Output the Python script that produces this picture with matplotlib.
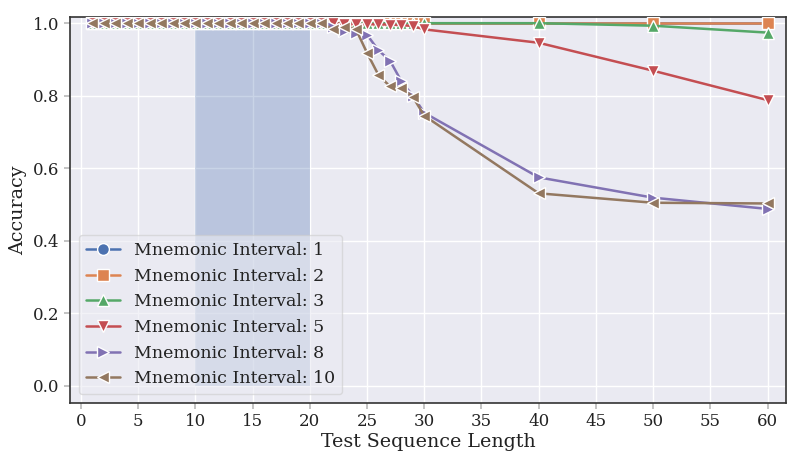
#!/usr/bin/env python3

import matplotlib
matplotlib.use('Agg')
import matplotlib.pyplot as plt
import seaborn as sns

# Accuracy per test sequence length, one list per mnemonic interval
lengths = list(range(1, 31)) + [40, 50, 60]

acc_1 = [1.0] * 33
acc_2 = [1.0] * 33
acc_3 = [1.0] * 31 + [0.993, 0.974]
acc_5 = [1.0] * 22 + [0.998, 0.998, 0.997, 0.997, 0.996, 0.995, 0.992, 0.983,
                      0.946, 0.869, 0.788]
acc_8 = [1.0] * 21 + [0.99, 0.978, 0.972, 0.968, 0.925, 0.897, 0.84, 0.80, 0.753,
                      0.575, 0.519, 0.488]
acc_10 = [1.0] * 21 + [0.983, 0.99, 0.985, 0.918, 0.857, 0.826, 0.82, 0.797, 0.745,
                       0.531, 0.505, 0.503]

intervals = [1, 2, 3, 5, 8, 10]
series = [acc_1, acc_2, acc_3, acc_5, acc_8, acc_10]
markers = ['o', 's', '^', 'v', '>', '<']

# Training range
train_lo, train_hi = 10, 20

sns.set_theme(style='darkgrid')
plt.rcParams['font.family'] = ['DejaVu Serif']
plt.rcParams['axes.edgecolor'] = '#333333'
plt.rcParams['axes.linewidth'] = 1.2

fig = plt.figure(figsize=(7.91, 4.55), dpi=100)
ax = fig.add_axes([0.0885, 0.1143, 0.905, 0.8483])

palette = sns.color_palette('deep')
ax.fill_between([train_lo, train_hi], 0, 0.98, color=palette[0], alpha=0.3, lw=0, zorder=1)

for i, (k, acc) in enumerate(zip(intervals, series)):
    ax.plot(lengths, acc, color=palette[i], marker=markers[i], markersize=8.5,
            markeredgecolor='white', markeredgewidth=1, lw=1.8,
            label=f'Mnemonic Interval: {k}', zorder=3 + i)

ax.set_xlim(-0.96, 61.6)
ax.set_ylim(-0.047, 1.017)
ax.set_xticks(range(0, 61, 5))
ax.set_yticks([0.0, 0.2, 0.4, 0.6, 0.8, 1.0])
ax.tick_params(axis='both', labelsize=12, length=4, color='#bbbbbb', bottom=True, left=True,
               labelcolor='#222222')
ax.set_xlabel('Test Sequence Length', fontsize=13.7, color='#222222', labelpad=2)
ax.set_ylabel('Accuracy', fontsize=13.7, color='#222222', labelpad=4)

leg = ax.legend(loc='lower left', bbox_to_anchor=(0.0, 0.0), fontsize=12.5, framealpha=0.6,
                borderpad=0.4, labelspacing=0.5, handlelength=2.0)
for t in leg.get_texts():
    t.set_color('#222222')

fig.savefig('out.png', dpi=100)
plt.close()
